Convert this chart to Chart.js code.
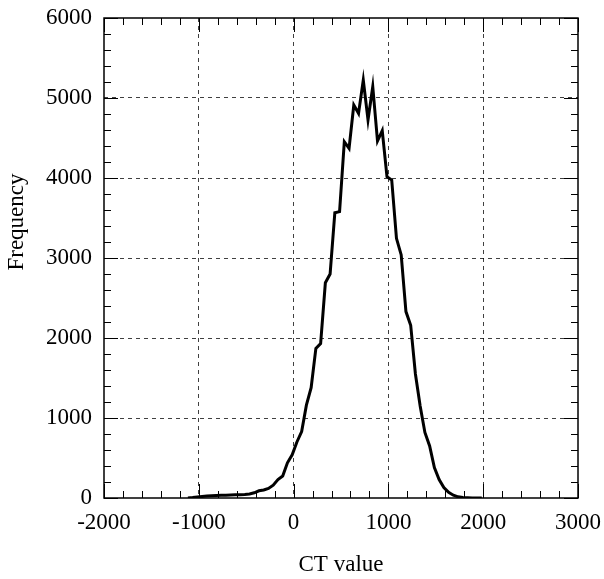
<!DOCTYPE html>
<html>
<head>
<meta charset="utf-8">
<script src="https://cdn.jsdelivr.net/npm/chart.js@4/dist/chart.umd.min.js"></script>
<style>
 html, body { margin: 0; padding: 0; background: #fff; }
 #wrap { width: 604px; height: 579px; }
</style>
</head>
<body>
<div id="wrap"><canvas id="histChart" width="604" height="579"></canvas></div>
<script>
// CT value bin positions
const ctValues = [
 -1115, -1065, -1015, -965, -915, -865, -815, -765, -715, -665,
 -615, -565, -515, -465, -415, -365, -315, -265, -215, -165,
 -115, -65, -15, 35, 85, 135, 185, 235, 285, 335,
 385, 435, 485, 535, 585, 635, 685, 735, 785, 835,
 885, 935, 985, 1035, 1085, 1135, 1185, 1235, 1285, 1335,
 1385, 1435, 1485, 1535, 1585, 1635, 1685, 1735, 1785, 1835,
 1885, 1935, 1985,
];

// frequency per bin
const frequency = [
 0, 5, 12, 20, 25, 28, 30, 33, 35, 37,
 40, 42, 45, 50, 65, 90, 100, 120, 160, 230,
 275, 440, 540, 700, 830, 1160, 1380, 1870, 1930, 2690,
 2800, 3566, 3580, 4454, 4371, 4912, 4808, 5225, 4725, 5141,
 4462, 4591, 4016, 3975, 3246, 3038, 2330, 2160, 1550, 1150,
 820, 650, 380, 230, 130, 70, 35, 15, 5, 2,
 0, 0, 0,
];

const xTickLabels = [-2000, -1000, 0, 1000, 2000, 3000];
const yTickLabels = [0, 1000, 2000, 3000, 4000, 5000, 6000];

const FONT = "'Liberation Serif', 'Times New Roman', 'DejaVu Serif', serif";
const FONT_SIZE = 23;

// inward ticks on all four sides, frame, and the y title
const frameTicks = {
 id: "frameTicks",
 afterDraw(chart) {
  const { ctx, chartArea: a, scales } = chart;
  ctx.save();
  ctx.strokeStyle = "#000";
  ctx.lineWidth = 1;
  ctx.beginPath();
  for (let v = -2000; v <= 3000; v += 200) {
   const px = Math.round(scales.x.getPixelForValue(v)) + 0.5;
   const len = v % 1000 === 0 ? 14 : 7;
   ctx.moveTo(px, a.bottom);
   ctx.lineTo(px, a.bottom - len);
   ctx.moveTo(px, a.top);
   ctx.lineTo(px, a.top + len);
  }
  for (let v = 0; v <= 6000; v += 200) {
   const py = Math.round(scales.y.getPixelForValue(v)) + 0.5;
   const len = v % 1000 === 0 ? 14 : 7;
   ctx.moveTo(a.left, py);
   ctx.lineTo(a.left + len, py);
   ctx.moveTo(a.right, py);
   ctx.lineTo(a.right - len, py);
  }
  ctx.stroke();
  ctx.lineWidth = 1.5;
  ctx.strokeRect(a.left, a.top, a.right - a.left, a.bottom - a.top);

  ctx.translate(17, 222);
  ctx.rotate(-Math.PI / 2);
  ctx.fillStyle = "#000";
  ctx.font = `${FONT_SIZE}px ${FONT}`;
  ctx.textAlign = "center";
  ctx.textBaseline = "middle";
  ctx.fillText("Frequency", 0, 0);
  ctx.restore();
 },
};

const gridColor = (ctx) => {
 const v = ctx.tick && ctx.tick.value;
 if (ctx.scale.axis === "x" && (v === -2000 || v === 3000)) return "rgba(0,0,0,0)";
 if (ctx.scale.axis === "y" && (v === 0 || v === 6000)) return "rgba(0,0,0,0)";
 return "rgba(0,0,0,0.75)";
};

new Chart(document.getElementById("histChart"), {
 type: "line",
 data: {
  datasets: [
   {
    data: ctValues.map((x, i) => ({ x, y: frequency[i] })),
    borderColor: "#000",
    borderWidth: 3,
    pointRadius: 0,
    tension: 0,
    fill: false,
   },
  ],
 },
 options: {
  responsive: false,
  animation: false,
  layout: { padding: { top: 18, right: 26, left: 0, bottom: 0 } },
  plugins: { legend: { display: false }, tooltip: { enabled: false } },
  scales: {
   x: {
    type: "linear",
    min: -2000,
    max: 3000,
    afterBuildTicks: (s) => { s.ticks = xTickLabels.map((value) => ({ value })); },
    afterFit: (s) => {
     s.height = 81;
     s.paddingLeft = 0;
     s.paddingRight = 0;
    },
    ticks: {
     color: "#000",
     padding: 11,
     maxRotation: 0,
     font: { family: FONT, size: FONT_SIZE },
     callback: (v) => String(v),
    },
    grid: { color: gridColor, lineWidth: 1, drawTicks: false },
    border: { display: false, dash: [4, 4] },
    title: {
     display: true,
     text: "CT value",
     color: "#000",
     font: { family: FONT, size: FONT_SIZE },
     padding: { top: 0, bottom: 0 },
    },
   },
   y: {
    type: "linear",
    min: 0,
    max: 6000,
    afterBuildTicks: (s) => { s.ticks = yTickLabels.map((value) => ({ value })); },
    afterFit: (s) => {
     s.width = 104;
     s.paddingTop = 0;
     s.paddingBottom = 0;
    },
    ticks: {
     color: "#000",
     padding: 12,
     font: { family: FONT, size: FONT_SIZE },
     callback: (v) => String(v),
    },
    grid: { color: gridColor, lineWidth: 1, drawTicks: false },
    border: { display: false, dash: [4, 4] },
   },
  },
 },
 plugins: [frameTicks],
});
</script>
</body>
</html>
